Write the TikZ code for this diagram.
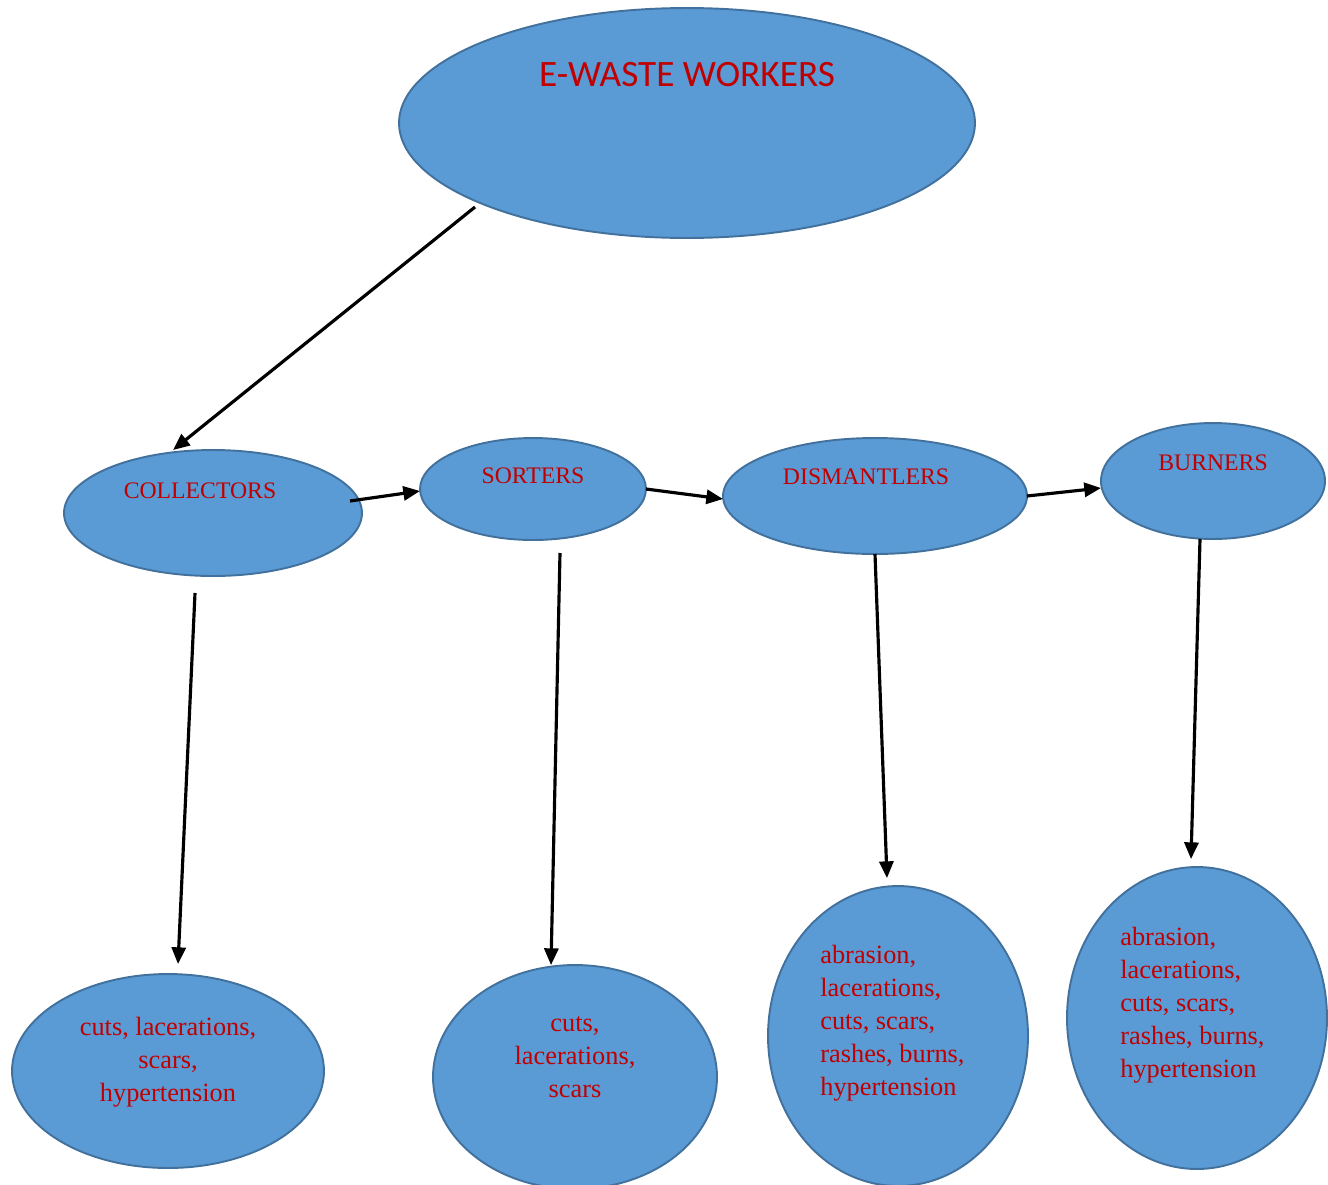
\documentclass[tikz,border=0pt]{standalone}
\usepackage{fontspec}
\setmainfont{Liberation Serif}
\newfontfamily\titlefont{Carlito}
\usetikzlibrary{shapes.geometric,arrows.meta}
\definecolor{ovalblue}{HTML}{5B9BD5}
\definecolor{ovaledge}{HTML}{41719C}
\definecolor{labelred}{HTML}{C00000}

\begin{document}
\begin{tikzpicture}[x=0.02cm,y=-0.02cm,
    oval/.style={draw=ovaledge, fill=ovalblue, ellipse, line width=1.1pt,
                 inner sep=0pt, outer sep=0pt},
    txt/.style={text=labelred, inner sep=0pt, font=\fontsize{15}{18.7}\selectfont},
    caps/.style={text=labelred, inner sep=0pt, font=\fontsize{13.5}{16}\selectfont},
    arr/.style={-{Triangle[length=9.5pt,width=8pt]}, line width=1.8pt}]
          \useasboundingbox (0,0) rectangle (1328,1184);

          \node[oval, minimum width=11.52cm, minimum height=4.6cm] (top) at (687,123) {};
          \node[oval, minimum width=5.96cm, minimum height=2.52cm] (col) at (213,513) {};
          \node[oval, minimum width=4.52cm, minimum height=2.04cm] (srt) at (533,489) {};
          \node[oval, minimum width=6.08cm, minimum height=2.32cm] (dis) at (875,496) {};
          \node[oval, minimum width=4.48cm, minimum height=2.32cm] (bur) at (1213,481) {};
          \node[oval, minimum width=6.24cm, minimum height=3.88cm] (b1) at (168,1071) {};
          \node[oval, minimum width=5.68cm, minimum height=4.48cm] (b2) at (575,1077) {};
          \node[oval, minimum width=5.2cm, minimum height=6cm] (b3) at (898,1036) {};
          \node[oval, minimum width=5.2cm, minimum height=6.04cm] (b4) at (1197,1018) {};

          \node[text=labelred, inner sep=0pt, font=\titlefont\fontsize{21.2}{25}\selectfont]
                (top-t) at (687,75) {E-WASTE WORKERS};
          \node[caps] (col-t) at (200,491) {COLLECTORS};
          \node[caps] (srt-t) at (533,476) {SORTERS};
          \node[caps] (dis-t) at (866,477) {DISMANTLERS};
          \node[caps] (bur-t) at (1213,463) {BURNERS};

          \node[txt, align=center] (b1-t) at (168,1062)
                {cuts, lacerations,\\scars,\\hypertension};
          \node[txt, align=center] (b2-t) at (575,1057)
                {cuts,\\lacerations,\\scars};
          \node[txt, align=left, anchor=west] (b3-t) at (820,1023)
                {abrasion,\\lacerations,\\cuts, scars,\\rashes, burns,\\hypertension};
          \node[txt, align=left, anchor=west] (b4-t) at (1120,1005)
                {abrasion,\\lacerations,\\cuts, scars,\\rashes, burns,\\hypertension};

          \draw[arr] ([xshift=-4.24cm,yshift=0.62cm]top.south)
                -- ([xshift=-0.8cm]col.north);
          \draw[arr] ([xshift=-0.24cm,yshift=0.24cm]col.east) -- ([yshift=-0.04cm]srt.west);
          \draw[arr] (srt.east) -- ([yshift=-0.06cm]dis.west);
          \draw[arr] (dis.east) -- ([yshift=-0.14cm]bur.west);

          \draw[arr] ([xshift=-0.36cm,yshift=-0.34cm]col.south)
                -- ([xshift=0.2cm,yshift=0.2cm]b1.north);
          \draw[arr] ([xshift=0.54cm,yshift=-0.26cm]srt.south)
                -- ([xshift=-0.48cm]b2.north);
          \draw[arr] (dis.south) -- ([xshift=-0.22cm,yshift=0.16cm]b3.north);
          \draw[arr] ([xshift=-0.26cm]bur.south)
                -- ([xshift=-0.12cm,yshift=0.16cm]b4.north);
      \end{tikzpicture}
\end{document}
